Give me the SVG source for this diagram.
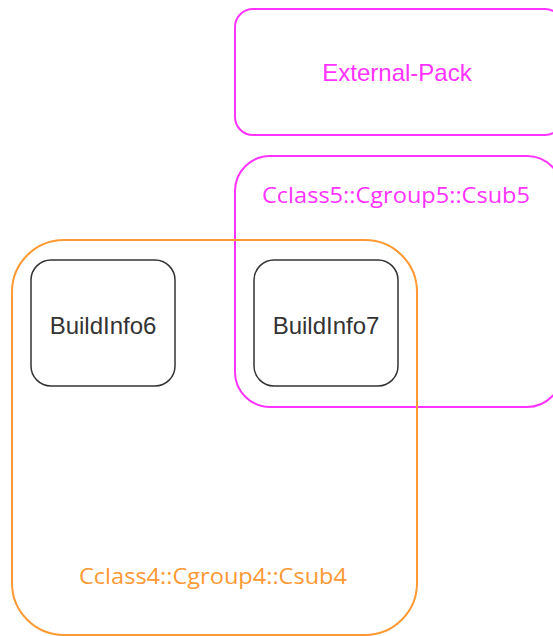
<svg xmlns="http://www.w3.org/2000/svg" width="553" height="636" viewBox="0 0 553 636">
<style>
.grp{fill:none;stroke-width:2}
.mag{stroke:#FF33FF}
.org{stroke:#FF9933}
.node{fill:#ffffff;stroke:#333333;stroke-width:1.5}
.lbl{font-family:"Liberation Sans",Arial,sans-serif;font-size:24px;text-anchor:middle;dominant-baseline:central}
.glbl{font-family:"Open Sans","Noto Sans",sans-serif;font-size:22px;text-anchor:middle;dominant-baseline:central}
</style>
<rect width="553" height="636" fill="#ffffff"/>
<g id="external-pack">
<rect class="grp mag" x="235" y="9" width="328" height="126" rx="18"/>
<text class="lbl" x="397" y="72" fill="#FF33FF">External-Pack</text>
</g>
<g id="cclass5">
<rect class="grp mag" x="235" y="156" width="327" height="251" rx="35"/>
<text class="glbl" x="396" y="194" fill="#FF33FF" textLength="268" lengthAdjust="spacingAndGlyphs">Cclass5::Cgroup5::Csub5</text>
</g>
<g id="cclass4">
<rect class="grp org" x="12" y="240" width="405" height="395" rx="52"/>
<text class="glbl" x="213" y="575" fill="#FF9933" textLength="268" lengthAdjust="spacingAndGlyphs">Cclass4::Cgroup4::Csub4</text>
</g>
<g id="buildinfo6">
<rect class="node" x="31" y="260" width="144" height="126" rx="20"/>
<text class="lbl" x="103" y="325" fill="#333333">BuildInfo6</text>
</g>
<g id="buildinfo7">
<rect class="node" x="254" y="260" width="144" height="126" rx="20"/>
<text class="lbl" x="326" y="325" fill="#333333">BuildInfo7</text>
</g>
<g id="connectors"></g>
</svg>
